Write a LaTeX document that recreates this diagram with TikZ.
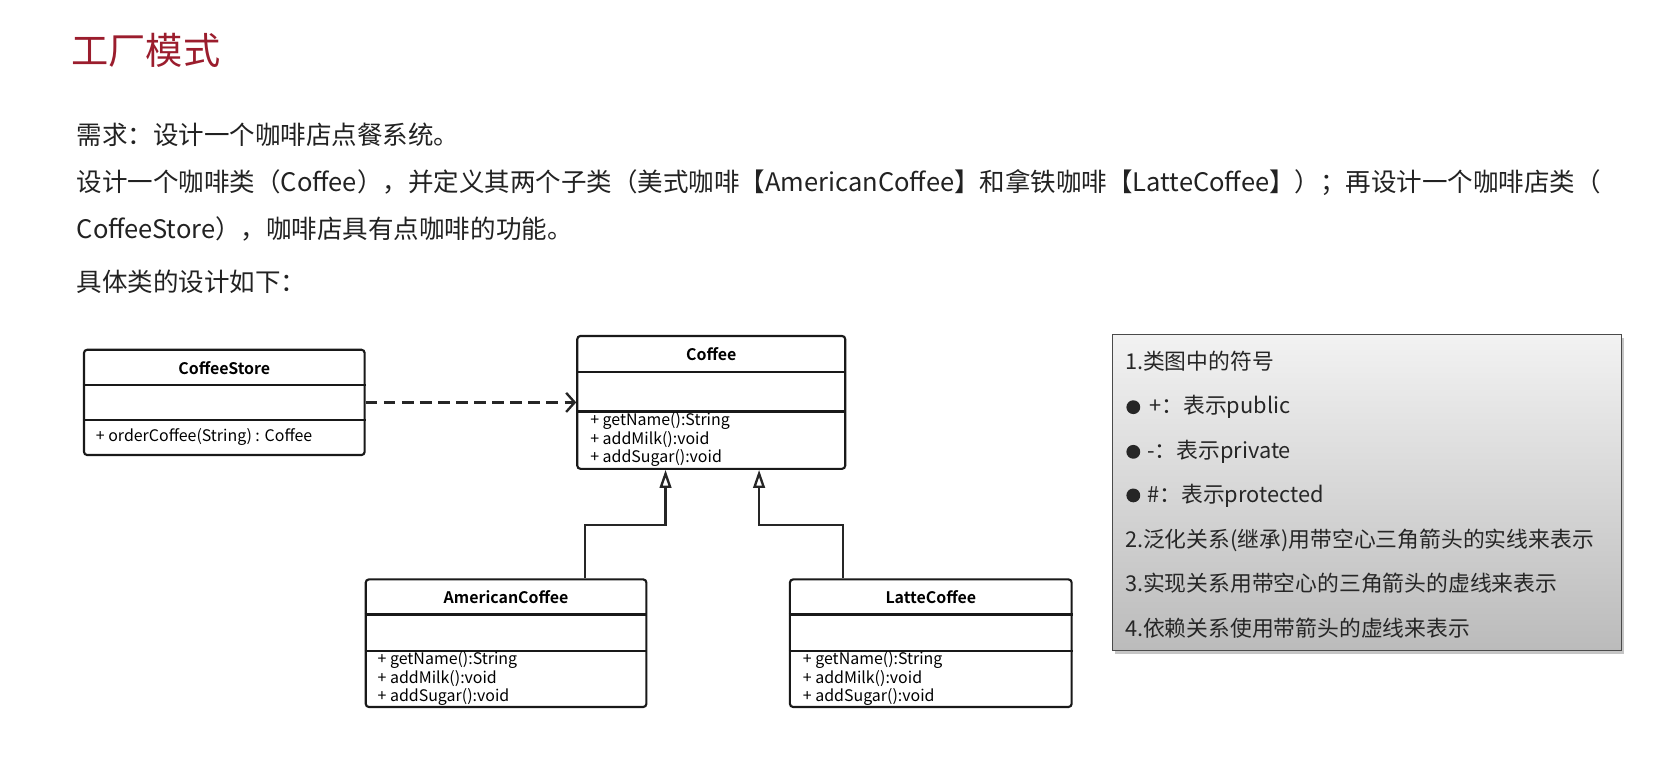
\documentclass[tikz,border=0pt]{standalone}
\usepackage{fontspec}
\setmainfont{Noto Sans CJK SC}[BoldFont={Noto Sans CJK SC Bold}]
\usetikzlibrary{arrows.meta,calc}
\definecolor{titlered}{HTML}{9B1D2D}
\definecolor{bodytext}{HTML}{222222}
\definecolor{legtop}{HTML}{F2F2F2}
\definecolor{legbot}{HTML}{BBBBBB}
\definecolor{legborder}{HTML}{4A4A4A}
\tikzset{
  bodyline/.style={anchor=west, inner sep=0, text=bodytext, font=\fontsize{24}{26}\selectfont},
  classbox/.style={draw=black!90, line width=2pt, rounded corners=3pt, fill=white, inner sep=0},
  divider/.style={draw=black!90, line width=2pt},
  cname/.style={inner sep=0, font=\bfseries\fontsize{15}{16}\selectfont},
  member/.style={anchor=west, inner sep=0, font=\fontsize{15}{16}\selectfont},
  legline/.style={anchor=west, inner sep=0, text=black!85, font=\fontsize{20.5}{22}\selectfont},
  depend/.style={line width=2.4pt, draw=black!85, dash pattern=on 11pt off 6pt, -{Straight Barb[length=8pt,width=18pt,line width=2.2pt]}},
  inherit/.style={line width=2pt, draw=black!85, -{Triangle[open,length=17pt,width=11pt,line width=2.2pt,fill=white]}},
}
\begin{document}
\begin{tikzpicture}[x=1pt,y=-1pt]
\useasboundingbox[fill=white] (0,0) rectangle (1568,716.8);

% title and text
\node[anchor=west, inner sep=0, text=titlered, font=\fontsize{35}{37}\selectfont] (title) at (67,47) {工厂模式};
\node[bodyline] (req) at (72,127) {需求：设计一个咖啡店点餐系统。};
\node[bodyline] (desc1) at (72,172) {设计一个咖啡类（Coffee），并定义其两个子类（美式咖啡【AmericanCoffee】和拿铁咖啡【LatteCoffee】）；再设计一个咖啡店类（};
\node[bodyline] (desc2) at (72,215) {CoffeeStore），咖啡店具有点咖啡的功能。};
\node[bodyline] (detail) at (72,265) {具体类的设计如下：};

% CoffeeStore
\node[classbox, minimum width=264pt, minimum height=99pt] (store) at (211,378.5) {};
\draw[divider] (store.west |- 0,362) -- (store.east |- 0,362);
\draw[divider] (store.west |- 0,395) -- (store.east |- 0,395);
\node[cname] (storename) at (211,346) {CoffeeStore};
\node[member] (storem1) at (90,411) {+ orderCoffee(String) : Coffee};

% Coffee
\node[classbox, minimum width=252pt, minimum height=125pt] (coffee) at (669,378.5) {};
\draw[divider] (coffee.west |- 0,350) -- (coffee.east |- 0,350);
\draw[divider] (coffee.west |- 0,387) -- (coffee.east |- 0,387);
\node[cname] (coffeename) at (669,333) {Coffee};
\node[member] (coffeem1) at (555,396) {+ getName():String};
\node[member] (coffeem2) at (555,413.5) {+ addMilk():void};
\node[member] (coffeem3) at (555,431) {+ addSugar():void};

% AmericanCoffee
\node[classbox, minimum width=264pt, minimum height=120pt] (american) at (476,605) {};
\draw[divider] (american.west |- 0,578) -- (american.east |- 0,578);
\draw[divider] (american.west |- 0,612) -- (american.east |- 0,612);
\node[cname] (americanname) at (476,562) {AmericanCoffee};
\node[member] (americanm1) at (355,621) {+ getName():String};
\node[member] (americanm2) at (355,638.5) {+ addMilk():void};
\node[member] (americanm3) at (355,656) {+ addSugar():void};

% LatteCoffee
\node[classbox, minimum width=265pt, minimum height=120pt] (latte) at (875.5,605) {};
\draw[divider] (latte.west |- 0,578) -- (latte.east |- 0,578);
\draw[divider] (latte.west |- 0,612) -- (latte.east |- 0,612);
\node[cname] (lattename) at (875.5,562) {LatteCoffee};
\node[member] (lattem1) at (755,621) {+ getName():String};
\node[member] (lattem2) at (755,638.5) {+ addMilk():void};
\node[member] (lattem3) at (755,656) {+ addSugar():void};

% connectors
\draw[depend] (store.east) -- (store.east -| coffee.west);
\coordinate (ja) at (550,494);
\coordinate (ka) at (626,494);
\coordinate (jb) at (793,494);
\coordinate (kb) at (714,494);
\draw[inherit] (american.north -| ja) -- (ja) -- (ka) -- (ka |- coffee.south);
\draw[inherit] (latte.north -| jb) -- (jb) -- (kb) -- (kb |- coffee.south);

% legend
\fill[black!45, opacity=0.5] (1049,318) rectangle (1528,615);
\node[draw=legborder, line width=1pt, top color=legtop, bottom color=legbot, minimum width=479pt, minimum height=297pt, inner sep=0] (legend) at (1285.5,463.5) {};
\node[legline] (l1) at (1058,340) {1.类图中的符号};
\fill[black!85] (1066,383) circle (6.5pt);
\node[legline] (l2) at (1081,383) {+：表示public};
\fill[black!85] (1066,425) circle (6.5pt);
\node[legline] (l3) at (1079,425) {-：表示private};
\fill[black!85] (1066,466) circle (6.5pt);
\node[legline] (l4) at (1079,466) {\#：表示protected};
\node[legline] (l5) at (1058,508) {2.泛化关系(继承)用带空心三角箭头的实线来表示};
\node[legline] (l6) at (1058,549) {3.实现关系用带空心的三角箭头的虚线来表示};
\node[legline] (l7) at (1058,591) {4.依赖关系使用带箭头的虚线来表示};
\end{tikzpicture}
\end{document}
